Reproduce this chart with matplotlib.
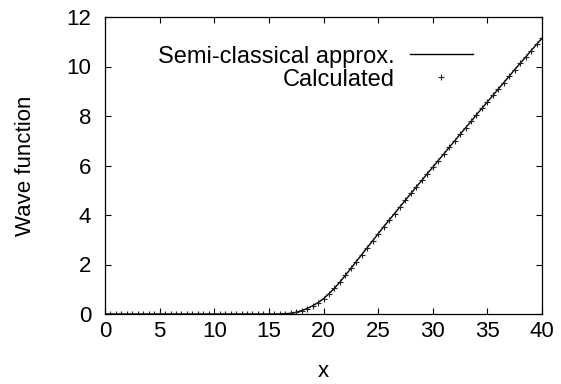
import matplotlib
matplotlib.use("Agg")
import matplotlib.pyplot as plt

plt.rcParams['font.family'] = ['Liberation Sans', 'DejaVu Sans']

x_vals = [0.0, 0.5, 1.0, 1.5, 2.0, 2.5, 3.0, 3.5, 4.0, 4.5, 5.0, 5.5, 6.0, 6.5, 7.0, 7.5,
          8.0, 8.5, 9.0, 9.5, 10.0, 10.5, 11.0, 11.5, 12.0, 12.5, 13.0, 13.5, 14.0, 14.5,
          15.0, 15.5, 16.0, 16.5, 17.0, 17.5, 18.0, 18.5, 19.0, 19.5, 20.0, 20.5, 21.0,
          21.5, 22.0, 22.5, 23.0, 23.5, 24.0, 24.5, 25.0, 25.5, 26.0, 26.5, 27.0, 27.5,
          28.0, 28.5, 29.0, 29.5, 30.0, 30.5, 31.0, 31.5, 32.0, 32.5, 33.0, 33.5, 34.0,
          34.5, 35.0, 35.5, 36.0, 36.5, 37.0, 37.5, 38.0, 38.5, 39.0, 39.5, 40.0]

semi_classical = [0.0, 0.0, 0.0, 0.0, 0.0, 0.0, 0.0, 0.0, 0.0, 0.0, 0.0, 0.0, 0.0, 0.0,
                  0.0, 0.0, 0.0, 0.0, 0.0, 0.0, 0.0, 0.0, 0.0, 0.0, 0.0, 0.0, 0.0, 0.0,
                  0.0, 0.0, 0.0, 0.0, 0.0, 0.01, 0.03, 0.07, 0.14, 0.22, 0.33, 0.46, 0.62,
                  0.82, 1.04, 1.29, 1.56, 1.84, 2.12, 2.40, 2.68, 2.96, 3.24, 3.52, 3.79,
                  4.06, 4.33, 4.60, 4.87, 5.14, 5.40, 5.67, 5.93, 6.20, 6.46, 6.73, 6.99,
                  7.26, 7.52, 7.78, 8.05, 8.31, 8.57, 8.83, 9.09, 9.35, 9.61, 9.87, 10.13,
                  10.38, 10.64, 10.89, 11.14]

calculated = [0.0, 0.0, 0.0, 0.0, 0.0, 0.0, 0.0, 0.0, 0.0, 0.0, 0.0, 0.0, 0.0, 0.0,
              0.0, 0.0, 0.0, 0.0, 0.0, 0.0, 0.0, 0.0, 0.0, 0.0, 0.0, 0.0, 0.0, 0.0,
              0.0, 0.0, 0.0, 0.0, 0.0, 0.01, 0.03, 0.07, 0.14, 0.22, 0.33, 0.46, 0.62,
              0.82, 1.04, 1.29, 1.56, 1.84, 2.12, 2.40, 2.68, 2.96, 3.24, 3.52, 3.79,
              4.06, 4.33, 4.60, 4.87, 5.14, 5.40, 5.67, 5.93, 6.20, 6.46, 6.73, 6.99,
              7.26, 7.52, 7.78, 8.05, 8.31, 8.57, 8.83, 9.09, 9.35, 9.61, 9.87, 10.13,
              10.38, 10.64, 10.89, 11.14]

x_ticks = [0, 5, 10, 15, 20, 25, 30, 35, 40]
y_ticks = [0, 2, 4, 6, 8, 10, 12]

FS = 16
LFS = 17

fig = plt.figure(figsize=(5.61, 3.84), dpi=100)
ax = fig.add_axes([105/561, 1 - 314/384, 437/561, 297/384])

ax.plot(x_vals, semi_classical, color='black', linewidth=1.0, label='Semi-classical approx.')
ax.plot(x_vals, calculated, linestyle='none', marker='+', markersize=5,
        markeredgewidth=0.8, color='#222222', label='Calculated')

ax.set_xlim(0, 40)
ax.set_ylim(0, 12)
ax.set_xticks(x_ticks)
ax.set_yticks(y_ticks)

for s in ax.spines.values():
    s.set_linewidth(0.9)

ax.tick_params(axis='both', direction='in', length=4.5, width=0.8,
               top=True, right=True, labelsize=FS)
ax.tick_params(axis='x', pad=5)
ax.tick_params(axis='y', pad=10)

ax.set_xlabel('x', fontsize=FS, labelpad=14)
ax.set_ylabel('Wave function', fontsize=FS, labelpad=22)

leg = ax.legend(loc='upper right', bbox_to_anchor=(368/437, (314-45.5)/297),
                frameon=False, markerfirst=False, fontsize=LFS,
                handlelength=2.67, handletextpad=0.64, labelspacing=0.05,
                borderpad=0, borderaxespad=0)

fig.savefig('out.png', dpi=100)
